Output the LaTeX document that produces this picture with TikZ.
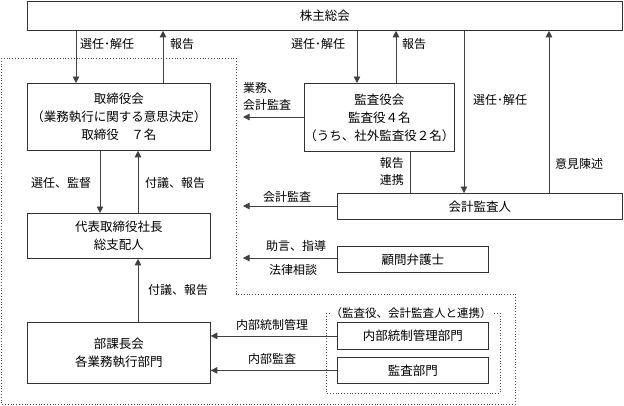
\documentclass[tikz,border=0pt]{standalone}
\usepackage{fontspec}
\setmainfont{Noto Sans CJK JP}
\usetikzlibrary{arrows.meta}
\begin{document}
\begin{tikzpicture}[x=1pt,y=-1pt,
  box/.style={draw=black!80, line width=0.8pt, anchor=north west, align=center, inner sep=0pt, font=\fontsize{12.5}{18}\selectfont},
  lbl/.style={font=\fontsize{12}{17}\selectfont, inner sep=0pt, align=center},
  arr/.style={draw=black!75, line width=0.8pt, -{Triangle[length=6.5pt,width=6.5pt]}},
  ln/.style={draw=black!75, line width=0.8pt},
  dotline/.style={draw=black!70, line width=0.8pt, dotted}]
\useasboundingbox (0,0) rectangle (624,405);
% dotted regions
\draw[dotline] (1,58) -- (236,58) -- (236,294) -- (515,294) -- (515,404) -- (1,404) -- cycle;
\draw[dotline] (326,313) rectangle (500,393);
% boxes
\node[box, minimum width=595pt, minimum height=29pt] (shu) at (27,1) {株主総会};
\node[box, minimum width=183pt, minimum height=67pt] (tori) at (27,83) {取締役会\\（業務執行に関する意思決定）\\取締役　７名};
\node[box, minimum width=183pt, minimum height=45pt] (daihyo) at (27,213) {代表取締役社長\\総支配人};
\node[box, minimum width=183pt, minimum height=61pt] (buka) at (27,322) {部課長会\\各業務執行部門};
\node[box, minimum width=144pt, minimum height=68pt] (kansa) at (304,83) {監査役会\\監査役４名\\（うち、社外監査役２名）};
\node[box, minimum width=285pt, minimum height=26pt] (kaikei) at (337,193) {会計監査人};
\node[box, minimum width=151pt, minimum height=26pt] (komon) at (337,246) {顧問弁護士};
\node[box, minimum width=151pt, minimum height=27pt] (naibu) at (337,322) {内部統制管理部門};
\node[box, minimum width=151pt, minimum height=26pt] (kansabu) at (337,357) {監査部門};
\node[lbl, fill=white, inner xsep=1pt, font=\fontsize{11.5}{14}\selectfont] (renkei) at (411,313) {（監査役、会計監査人と連携）};
% free ends
\coordinate (e1) at (243,117);
\coordinate (e2) at (243,206);
\coordinate (e3) at (243,258);
% connectors
\draw[arr] (76,0 |- shu.south) -- (76,0 |- tori.north);
\draw[arr] (163,0 |- tori.north) -- (163,0 |- shu.south);
\draw[arr] (357,0 |- shu.south) -- (357,0 |- kansa.north);
\draw[arr] (396,0 |- kansa.north) -- (396,0 |- shu.south);
\draw[arr] (464,0 |- shu.south) -- (464,0 |- kaikei.north);
\draw[arr] (549,0 |- kaikei.north) -- (549,0 |- shu.south);
\draw[ln] (410,0 |- kansa.south) -- (410,0 |- kaikei.north);
\draw[arr] (kansa.west |- e1) -- (e1);
\draw[arr] (kaikei.west |- e2) -- (e2);
\draw[arr] (komon.west |- e3) -- (e3);
\draw[arr] (100,0 |- tori.south) -- (100,0 |- daihyo.north);
\draw[arr] (138,0 |- daihyo.north) -- (138,0 |- tori.south);
\draw[arr] (138,0 |- buka.north) -- (138,0 |- daihyo.south);
\draw[arr] (naibu.west) -- (buka.east |- naibu.west);
\draw[arr] (kansabu.west) -- (buka.east |- kansabu.west);
% labels
\node[lbl, anchor=west] (l1) at (80,44) {選任･解任};
\node[lbl, anchor=west] (l2) at (170,44) {報告};
\node[lbl, anchor=west] (l3) at (291,44) {選任･解任};
\node[lbl, anchor=west] (l4) at (402,44) {報告};
\node[lbl, anchor=west] (l5) at (473,100) {選任･解任};
\node[lbl, anchor=west] (l6) at (555,164) {意見陳述};
\node[lbl, anchor=west, align=left] (l7) at (243,96) {業務、\\会計監査};
\node[lbl, anchor=east] (l8) at (404,171) {報告\\連携};
\node[lbl] (l9) at (287,197) {会計監査};
\node[lbl] (l10) at (296,246) {助言、指導};
\node[lbl] (l11) at (293,270) {法律相談};
\node[lbl, anchor=west] (l12) at (31,183) {選任、監督};
\node[lbl, anchor=west] (l13) at (145,183) {付議、報告};
\node[lbl, anchor=west] (l14) at (148,290) {付議、報告};
\node[lbl] (l15) at (272,325) {内部統制管理};
\node[lbl] (l16) at (272,359) {内部監査};
\end{tikzpicture}
\end{document}
